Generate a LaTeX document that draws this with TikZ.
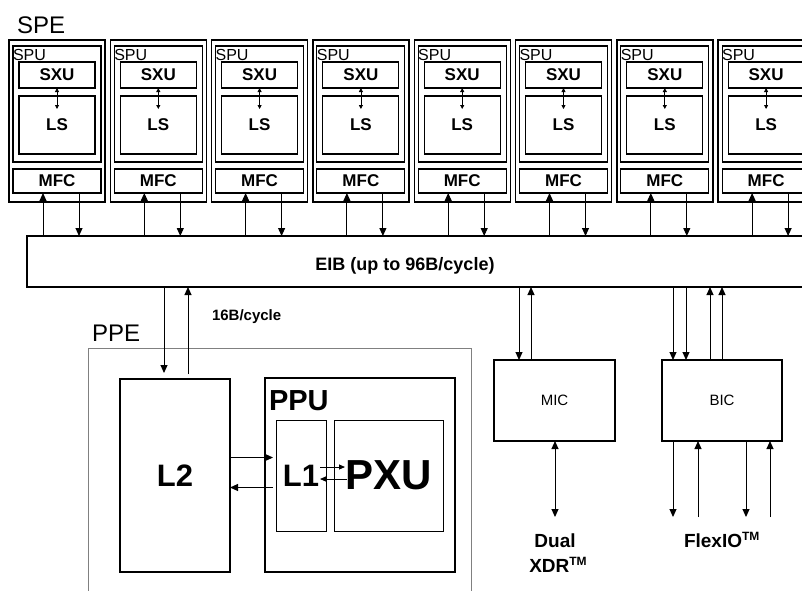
\documentclass[tikz,border=0pt]{standalone}
\usepackage{fontspec}
\setmainfont{Liberation Sans}
\usetikzlibrary{arrows.meta,calc}
\newcommand\tmark{\raisebox{6.5pt}{\fontsize{12}{12}\selectfont\bfseries TM}}
\begin{document}
\begin{tikzpicture}[x=1pt,y=-1pt,
  box/.style={draw, inner sep=0pt, outer sep=0pt, anchor=north west},
  lbl/.style={inner sep=0pt, outer sep=0pt},
  arr/.style={-{Triangle[length=8pt,width=7pt]}, line width=1pt},
  darr/.style={{Triangle[length=8pt,width=7pt]}-{Triangle[length=8pt,width=7pt]}, line width=1pt},
  sarr/.style={{Triangle[length=4pt,width=4pt]}-{Triangle[length=4pt,width=4pt]}, line width=0.8pt},
  tarr/.style={-{Triangle[length=6pt,width=5pt]}, line width=0.9pt},
  bf17/.style={font=\fontsize{17}{17}\selectfont\bfseries}
]
\clip (0,0) rectangle (802,590);
% EIB
\node[box, line width=2pt, minimum width=800pt, minimum height=51pt] (eib) at (27,236) {};
\node[lbl, anchor=base, font=\fontsize{18}{18}\selectfont\bfseries] (eibl) at (405,270) {EIB (up to 96B/cycle)};
% SPE
\node[lbl, anchor=base west, font=\fontsize{24}{24}\selectfont] (spel) at (17,33) {SPE};
\foreach \i in {1,...,8} {
  \pgfmathsetmacro\xl{9+101.3*(\i-1)}
  \node[box, line width=1.4pt, minimum width=96pt, minimum height=162pt] (spe\i) at (\xl,40) {};
  \node[box, line width=1.1pt, minimum width=88pt, minimum height=116pt] (spu\i) at (\xl+4,46) {};
  \node[box, line width=1.1pt, minimum width=76pt, minimum height=26pt, bf17] (sxu\i) at (\xl+10,62) {SXU};
  \node[box, line width=1.1pt, minimum width=76pt, minimum height=58pt, bf17] (ls\i) at (\xl+10,96) {LS};
  \node[box, line width=1.1pt, minimum width=88pt, minimum height=24pt, bf17] (mfc\i) at (\xl+4,169) {MFC};
  \node[lbl, anchor=base west, font=\fontsize{16}{16}\selectfont] (spul\i) at (\xl+4,60) {SPU};
  \coordinate (lsa\i) at ($(ls\i.north)+(0,13)$);
  \draw[sarr] (sxu\i.south) -- (lsa\i);
  \coordinate (mu\i) at ($(mfc\i.south west)+(30,0)$);
  \coordinate (md\i) at ($(mfc\i.south west)+(66,0)$);
  \draw[arr] (eib.north -| mu\i) -- (mu\i);
  \draw[arr] (md\i) -- (eib.north -| md\i);
}
% PPE
\node[lbl, anchor=base west, font=\fontsize{24}{24}\selectfont] (ppel) at (92,341) {PPE};
\node[box, draw=gray, line width=0.7pt, minimum width=383pt, minimum height=260pt] (ppe) at (88,348) {};
\node[box, line width=1.2pt, minimum width=110pt, minimum height=193pt, font=\fontsize{31}{31}\selectfont\bfseries] (l2) at (120,379) {L2};
\node[box, line width=2.2pt, minimum width=190pt, minimum height=194pt] (ppu) at (265,378) {};
\node[lbl, anchor=base west, font=\fontsize{29}{29}\selectfont\bfseries] (ppul) at (269,410) {PPU};
\node[box, line width=1pt, minimum width=50pt, minimum height=111pt, font=\fontsize{31}{31}\selectfont\bfseries] (l1) at (276,420) {L1};
\node[box, line width=1pt, minimum width=109pt, minimum height=111pt, font=\fontsize{42}{42}\selectfont\bfseries] (pxu) at (334,420) {PXU};
\node[lbl, anchor=base west, font=\fontsize{15}{15}\selectfont\bfseries] (bw) at (212,320) {16B/cycle};
% EIB <-> L2
\coordinate (l2d) at (164,373);
\coordinate (l2u) at (188,374);
\draw[arr] (eib.south -| l2d) -- (l2d);
\draw[arr] (l2u) -- (eib.south -| l2u);
% L2 <-> L1
\coordinate (l1in) at ($(l1.west)+(-3,-18)$);
\coordinate (l1out) at ($(l1.west)+(-3,12)$);
\draw[arr] (l2.east |- l1in) -- (l1in);
\draw[arr] (l1out) -- (l2.east |- l1out);
% L1 <-> PXU
\coordinate (a1) at ($(l1.east)+(-6,-8.5)$);
\coordinate (a2) at ($(pxu.west)+(11,-8.5)$);
\coordinate (b1) at ($(pxu.west)+(13,3.5)$);
\coordinate (b2) at ($(l1.east)+(-6,3.5)$);
\draw[tarr] (a1) -- (a2);
\draw[tarr] (b1) -- (b2);
% MIC / BIC
\node[box, line width=1.8pt, minimum width=121pt, minimum height=81pt, font=\fontsize{15}{15}\selectfont] (mic) at (494,360) {MIC};
\node[box, line width=1.8pt, minimum width=120pt, minimum height=81pt, font=\fontsize{15}{15}\selectfont] (bic) at (662,360) {BIC};
\foreach \n/\dx in {m1/25} { \coordinate (\n) at ($(mic.north west)+(\dx,0)$); \draw[arr] (eib.south -| \n) -- (\n); }
\foreach \n/\dx in {m2/37} { \coordinate (\n) at ($(mic.north west)+(\dx,0)$); \draw[arr] (\n) -- (eib.south -| \n); }
\foreach \n/\dx in {b1t/11,b2t/24} { \coordinate (\n) at ($(bic.north west)+(\dx,0)$); \draw[arr] (eib.south -| \n) -- (\n); }
\foreach \n/\dx in {b3t/48,b4t/60} { \coordinate (\n) at ($(bic.north west)+(\dx,0)$); \draw[arr] (\n) -- (eib.south -| \n); }
\coordinate (xdrend) at (555,517);
\draw[darr] (mic.south -| xdrend) -- (xdrend);
\foreach \n/\dx in {f1/11,f3/84} { \coordinate (\n) at ($(bic.south west)+(\dx,76)$); \draw[arr] (bic.south -| \n) -- (\n); }
\foreach \n/\dx in {f2/36,f4/108} { \coordinate (\n) at ($(bic.south west)+(\dx,76)$); \draw[arr] (\n) -- (bic.south -| \n); }
\node[lbl, anchor=base, font=\fontsize{19}{19}\selectfont\bfseries] (dual) at (555,547) {Dual};
\node[lbl, anchor=base, font=\fontsize{19}{19}\selectfont\bfseries] (xdr) at (558,572) {XDR\tmark};
\node[lbl, anchor=base west, font=\fontsize{19}{19}\selectfont\bfseries] (flex) at (684,547) {FlexIO\tmark};
\end{tikzpicture}
\end{document}
